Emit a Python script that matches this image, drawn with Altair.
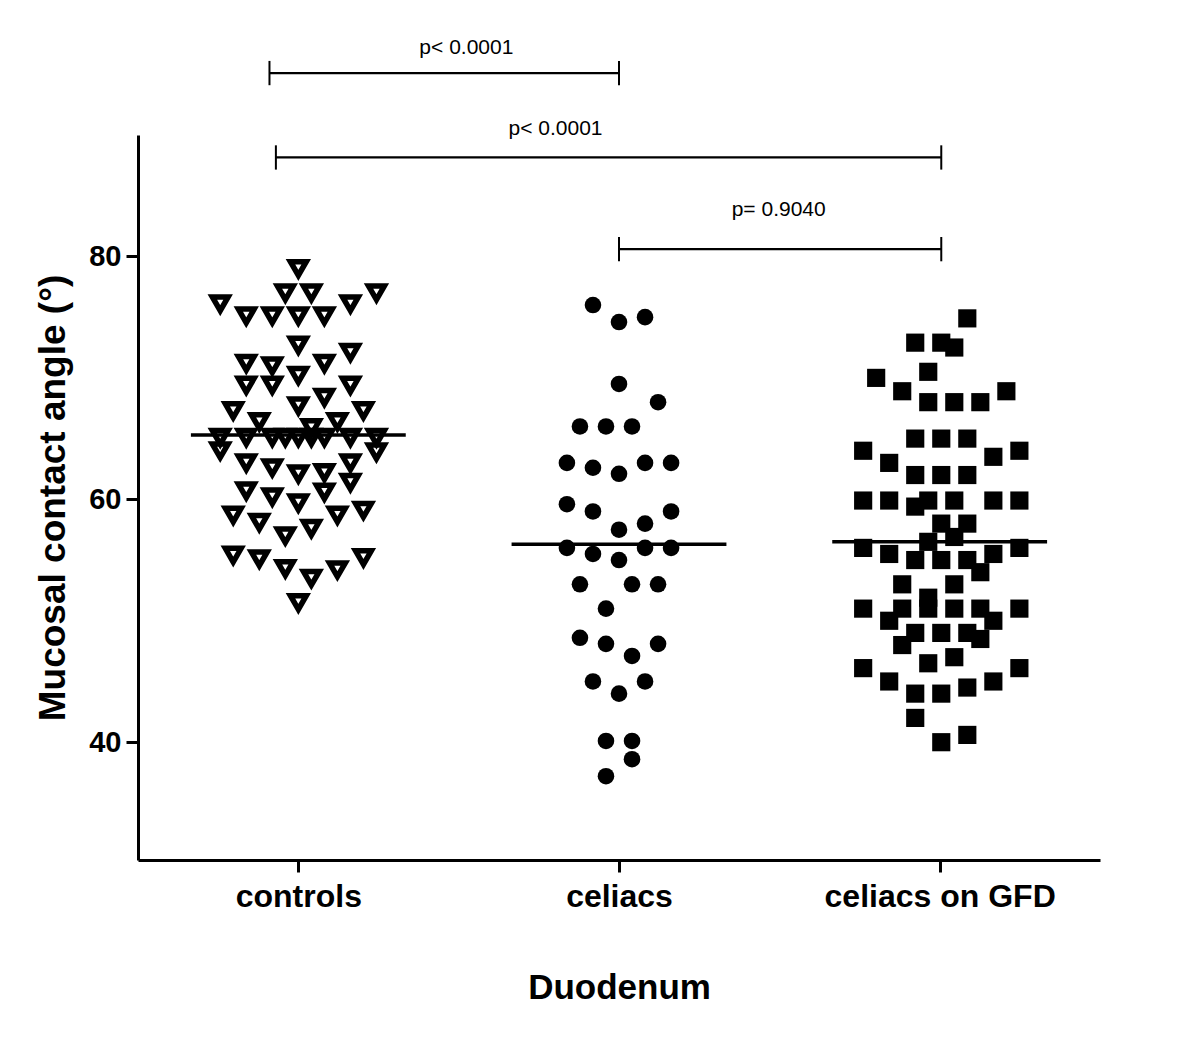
import altair as alt
import pandas as pd

groups = ["controls", "celiacs", "celiacs on GFD"]
group_pos = [1, 2, 3]

# values (degrees) and jitter column index
controls_values = [79.0, 77.0, 77.0, 77.0, 76.1, 76.1, 75.1, 75.1, 75.1, 75.1,
                   72.7, 72.1, 71.2, 71.0, 71.2, 70.2, 69.4, 69.4, 69.4, 68.4,
                   67.7, 67.3, 67.3, 66.4, 66.4, 65.9,
                   65.1, 65.1, 65.1, 65.1, 65.1, 65.1, 65.1, 65.1, 65.1,
                   64.0, 63.9, 63.0, 63.0, 62.6, 62.1, 62.2, 61.4, 60.7, 60.6,
                   60.2, 59.7, 58.7, 58.7, 59.1, 58.1, 57.6, 57.0, 55.4, 55.1,
                   55.2, 54.3, 54.2, 53.5, 51.5]
controls_cols = [0, -1, 1, 6, -6, 4, -4, -2, 0, 2,
                 0, 4, -4, -2, 2, 0, -4, -2, 4, 2,
                 0, -5, 5, -3, 3, 1,
                 -6, -4, -2, -1, 0, 1, 2, 4, 6,
                 -6, 6, -4, 4, -2, 0, 2, 4, -4, 2,
                 -2, 0, -5, 3, 5, -3, 1, -1, -5, -3,
                 5, -1, 3, 1, 0]

celiacs_values = [76.0, 74.6, 75.0, 69.5, 68.0, 66.0, 66.0, 66.0, 63.0, 62.6,
                  62.1, 63.0, 63.0, 59.6, 59.0, 59.0, 58.0, 57.5, 56.0, 55.5,
                  55.0, 56.0, 56.0, 53.0, 53.0, 53.0, 51.0, 48.6, 48.1, 47.1,
                  48.1, 45.0, 44.0, 45.0, 40.1, 40.1, 38.6, 37.2]
celiacs_cols = [-2, 0, 2, 0, 3, -3, -1, 1, -4, -2,
                0, 2, 4, -4, -2, 4, 2, 0, -4, -2,
                0, 2, 4, -3, 1, 3, -1, -3, -1, 1,
                3, -2, 0, 2, -1, 1, 1, -1]

gfd_values = [74.9, 72.9, 72.9, 72.5, 70.0, 70.5, 68.9, 68.0, 68.0, 68.0,
              68.9, 65.0, 65.0, 65.0, 64.0, 64.0, 63.0, 63.5, 62.0, 62.0,
              62.0, 59.9, 59.9, 59.9, 59.9, 59.9, 59.9, 59.4, 58.0, 58.0,
              56.5, 56.9, 56.0, 56.0, 55.5, 55.5, 55.0, 55.0, 55.0, 54.0,
              53.0, 53.0, 51.9, 51.0, 51.0, 51.0, 51.0, 51.0, 51.0, 50.0,
              50.0, 49.0, 49.0, 49.0, 48.5, 48.0, 46.5, 47.0, 46.1, 46.1,
              45.0, 45.0, 44.0, 44.0, 44.5, 42.0, 40.0, 40.6]
gfd_cols = [2, -2, 0, 1, -5, -1, -3, -1, 1, 3,
            5, -2, 0, 2, -6, 6, -4, 4, -2, 0,
            2, -6, -4, -1, 1, 4, 6, -2, 0, 2,
            -1, 1, -6, 6, -4, 4, -2, 0, 2, 3,
            -3, 1, -1, -6, -3, -1, 1, 3, 6, -4,
            4, -2, 0, 2, 3, -3, -1, 1, -6, 6,
            -4, 4, -2, 0, 2, -2, 0, 2]

group_means = [65.3, 56.3, 56.5]

bracket_start = [0.91, 0.93, 2.0]
bracket_end = [2.0, 3.005, 3.005]
bracket_level = [95.1, 88.15, 80.6]
p_labels = ["p< 0.0001", "p< 0.0001", "p= 0.9040"]
p_label_x = [1.524, 1.802, 2.498]
p_label_y = [97.2, 90.5, 83.8]

COL_STEP = 0.0406
MEAN_HALF = 0.335
CAP = 1.0
FONT = "Liberation Sans"


def points_df(values, cols, pos):
    return pd.DataFrame({"x": [pos + c * COL_STEP for c in cols], "y": values})


df_controls = points_df(controls_values, controls_cols, group_pos[0])
df_celiacs = points_df(celiacs_values, celiacs_cols, group_pos[1])
df_gfd = points_df(gfd_values, gfd_cols, group_pos[2] + 0.005)

df_means = pd.DataFrame({
    "x": [p - MEAN_HALF for p in group_pos],
    "x2": [p + MEAN_HALF for p in group_pos],
    "y": group_means,
})
df_br = pd.DataFrame({"x": bracket_start, "x2": bracket_end, "y": bracket_level})
df_caps = pd.DataFrame({
    "x": bracket_start + bracket_end,
    "y": [v - CAP for v in bracket_level] * 2,
    "y2": [v + CAP for v in bracket_level] * 2,
})
df_p = pd.DataFrame({"x": p_label_x, "y": p_label_y, "t": p_labels})

label_expr = ("datum.value == 1 ? 'controls' : datum.value == 2 ? 'celiacs' : "
              "datum.value == 3 ? 'celiacs on GFD' : ''")

x_scale = alt.Scale(domain=[0.5, 3.5], nice=False, zero=False)
y_scale = alt.Scale(domain=[30.3, 90], nice=False, zero=False)

x_axis = alt.Axis(values=[1, 2, 3], labelExpr=label_expr, title="Duodenum",
                  grid=False, domainWidth=3, domainColor="black", tickWidth=3,
                  tickColor="black", tickSize=12, labelFont=FONT, labelFontSize=32,
                  labelFontWeight="bold", labelColor="black", labelPadding=9,
                  labelLimit=0, labelOverlap=False,
                  titleFont=FONT, titleFontSize=35, titleFontWeight="bold",
                  titleColor="black", titlePadding=58)
y_axis = alt.Axis(values=[40, 60, 80], title="Mucosal contact angle (°)",
                  grid=False, domainWidth=3, domainColor="black", tickWidth=3,
                  tickColor="black", tickSize=12, labelFont=FONT, labelFontSize=29,
                  labelFontWeight="bold", labelColor="black", labelPadding=5,
                  titleFont=FONT, titleFontSize=37, titleFontWeight="bold",
                  titleColor="black", titlePadding=16)


def X(field="x"):
    return alt.X(f"{field}:Q", scale=x_scale, axis=x_axis)


def Y(field="y"):
    return alt.Y(f"{field}:Q", scale=y_scale, axis=y_axis)


controls = alt.Chart(df_controls).mark_point(
    shape="triangle-down", filled=False, color="black", strokeWidth=5.5,
    size=250, opacity=1
).encode(x=X(), y=Y())

celiacs = alt.Chart(df_celiacs).mark_point(
    shape="circle", filled=True, color="black", size=275, opacity=1
).encode(x=X(), y=Y())

gfd = alt.Chart(df_gfd).mark_point(
    shape="square", filled=True, color="black", size=330, opacity=1
).encode(x=X(), y=Y())

means = alt.Chart(df_means).mark_rule(color="black", strokeWidth=3.5).encode(
    x=X(), x2="x2:Q", y=Y())

brackets = alt.Chart(df_br).mark_rule(color="black", strokeWidth=2.2).encode(
    x=X(), x2="x2:Q", y=Y())

caps = alt.Chart(df_caps).mark_rule(color="black", strokeWidth=2).encode(
    x=X(), y=Y(), y2="y2:Q")

ptext = alt.Chart(df_p).mark_text(
    font=FONT, fontSize=21, color="black", align="center", baseline="middle"
).encode(x=X(), y=Y(), text="t:N")

chart = alt.layer(controls, celiacs, gfd, means, brackets, caps, ptext).properties(
    width=962, height=725,
    padding={"left": 26, "top": 28, "right": 20, "bottom": 10},
    background="white",
).configure_view(stroke=None)

chart.save("out.html", embed_options={"renderer": "svg", "actions": False})
